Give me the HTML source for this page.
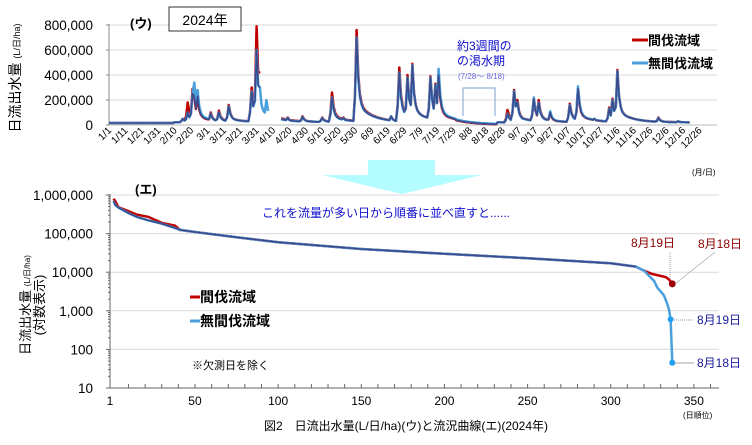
<!DOCTYPE html>
<html><head><meta charset="utf-8"><style>
body{margin:0;background:#fff;}
svg{display:block;font-family:"Liberation Sans","Noto Sans CJK JP",sans-serif;}
</style></head><body>
<svg id="s" width="752" height="445" viewBox="0 0 752 445" xmlns="http://www.w3.org/2000/svg">
<rect width="752" height="445" fill="#fff"/>
<polygon points="368,160 435,160 435,175 482,175 402,194 322,175 368,175" fill="#b3fcff"/>
<g id="gtop"></g>
<g id="gbot"></g>
<text x="20" y="78" transform="rotate(-90 20 78)" font-size="14" text-anchor="middle">日流出水量 <tspan font-size="9">(L/日/ha)</tspan></text>
<text x="130" y="28" font-size="13" font-weight="bold">(ウ)</text>
<rect x="169" y="7" width="72" height="24" fill="#fff" stroke="#333" stroke-width="1"/>
<text x="205" y="25" font-size="14" text-anchor="middle">2024年</text>
<text x="457" y="50" font-size="12" fill="#1010d0">約3週間の</text>
<text x="457" y="65" font-size="12" fill="#1010d0">の渇水期</text>
<text x="458" y="79" font-size="8" fill="#6a6ae0">(7/28〜 8/18)</text>
<polyline points="463,116 463,88 495,88 495,116" fill="none" stroke="#7f9fd0" stroke-width="1"/>
<line x1="632" y1="40" x2="648" y2="40" stroke="#c00000" stroke-width="3"/>
<text x="648" y="45" font-size="13" font-weight="bold">間伐流域</text>
<line x1="632" y1="63" x2="648" y2="63" stroke="#4aa0dc" stroke-width="3"/>
<text x="648" y="68" font-size="13" font-weight="bold">無間伐流域</text>
<text x="692" y="175" font-size="8">(月/日)</text>
<text x="135" y="194" font-size="13" font-weight="bold">(エ)</text>
<text x="262" y="217" font-size="12" fill="#1010d0">これを流量が多い日から順番に並べ直すと......</text>
<line x1="190" y1="297" x2="200" y2="297" stroke="#c00000" stroke-width="3"/>
<text x="200" y="302" font-size="14" font-weight="bold">間伐流域</text>
<line x1="190" y1="321" x2="200" y2="321" stroke="#4aa0dc" stroke-width="3"/>
<text x="200" y="326" font-size="14" font-weight="bold">無間伐流域</text>
<text x="192" y="369" font-size="11">※欠測日を除く</text>
<text x="30" y="305" transform="rotate(-90 30 305)" font-size="13" text-anchor="middle">日流出水量 <tspan font-size="8">(L/日/ha)</tspan></text>
<text x="44" y="305" transform="rotate(-90 44 305)" font-size="13" text-anchor="middle">(対数表示)</text>
<text x="631" y="247" font-size="12" fill="#8b0000">8月19日</text>
<text x="698" y="248" font-size="12" fill="#8b0000">8月18日</text>
<line x1="670" y1="252" x2="670" y2="280" stroke="#999" stroke-dasharray="1,1"/>
<line x1="675" y1="284" x2="715" y2="252" stroke="#aaa" stroke-width="0.7"/>
<line x1="672" y1="320" x2="694" y2="320" stroke="#999" stroke-dasharray="1,1"/>
<text x="697" y="324" font-size="12" fill="#1a1a9a">8月19日</text>
<line x1="674" y1="363" x2="694" y2="363" stroke="#888" stroke-width="0.7"/>
<text x="697" y="367" font-size="12" fill="#1a1a9a">8月18日</text>
<text x="683" y="418" font-size="8">(日順位)</text>
<text x="406" y="430" font-size="12" text-anchor="middle">図2　日流出水量(L/日/ha)(ウ)と流況曲線(エ)(2024年)</text>
</svg>
<script>
(function(){
var NS="http://www.w3.org/2000/svg";
function el(p,t,a,txt){var e=document.createElementNS(NS,t);for(var k in a)e.setAttribute(k,a[k]);if(txt!==undefined)e.textContent=txt;p.appendChild(e);return e;}
var gt=document.getElementById('gtop'),gb=document.getElementById('gbot');
function fmt(v){return String(v).replace(/\B(?=(\d{3})+(?!\d))/g,',');}
var X0=109,Y0=125,dx=1.64;
function ty(v){return Y0-v/8000;}
[200000,400000,600000,800000].forEach(function(v){el(gt,'line',{x1:X0,x2:717,y1:ty(v),y2:ty(v),stroke:'#d9d9d9'});});
el(gt,'line',{x1:X0,x2:717,y1:Y0,y2:Y0,stroke:'#bbb'});
el(gt,'line',{x1:X0,x2:X0,y1:24,y2:Y0,stroke:'#888'});
[0,200000,400000,600000,800000].forEach(function(v){
 el(gt,'line',{x1:X0-3,x2:X0,y1:ty(v),y2:ty(v),stroke:'#888'});
 el(gt,'text',{x:93,y:ty(v)+5,'font-size':13.5,'text-anchor':'end'},fmt(v));});
var mons=[31,29,31,30,31,30,31,31,30,31,30,31],cum=[0];for(var i=0;i<12;i++)cum.push(cum[i]+mons[i]);
for(var d=0;d<=360;d+=10){var m=0;while(cum[m+1]<=d)m++;var lab=(m+1)+'/'+(d-cum[m]+1);
 var x=X0+d*dx;el(gt,'text',{x:x+3,y:131,'font-size':10,'text-anchor':'end',transform:'rotate(-45 '+(x+3)+' 131)'},lab);}
var sp=[[45,50,50],[48,180,100],[51,290,250],[52,230,340],[54,230,280],[62,100,90],[67,115,100],[73,160,150],[87,300,270],[90,790,600],[92,430,300],[96,0,200],
[109,60,55],[118,70,65],[130,60,55],[136,260,220],[143,60,55],[151,760,700],[154,110,110],[164,55,55],[172,70,70],[177,460,420],[182,400,380],[185,490,480],
[196,390,380],[199,330,320],[201,400,450],[208,60,60],[243,120,90],[247,280,270],[249,200,180],[259,210,220],[262,200,180],[269,100,110],[281,170,160],[286,290,310],
[296,50,50],[305,140,130],[307,210,200],[310,440,430],[335,60,55],[347,30,30]];
function series(k){var a=[];for(var d=0;d<355;d++){var base=(d<40?16000:d<200?22000:20000);
 if(d>=212&&d<=236)base=(k==1?4000:7000)+(236-d)*350;
 var mx=0;sp.forEach(function(s){var p=s[k]*1000;if(!p)return;var t=d-s[0];var q=p-base;var v=0;
  if(t>=0)v=q*(0.78*Math.exp(-t/1.1)+0.22*Math.exp(-t/9));else if(t==-1)v=0.3*q;
  if(v>mx)mx=v;});a.push(base+mx);}return a;}
function path(a,gapFn){var s='',pen=false;for(var d=0;d<a.length;d++){if(gapFn(d)){pen=false;continue;}s+=(pen?'L':'M')+(X0+d*dx).toFixed(1)+','+ty(a[d]).toFixed(1);pen=true;}return s;}
var r=series(1),b=series(2);
el(gt,'path',{d:path(r,function(d){return d>=93&&d<105;}),fill:'none',stroke:'#c00000','stroke-width':2.5,'stroke-linejoin':'round'});
el(gt,'path',{d:path(b,function(d){return d>=98&&d<105;}),fill:'none',stroke:'#4aa0dc','stroke-width':2.5,'stroke-linejoin':'round'});
el(gt,'path',{d:path(b.map(function(v,i){return Math.min(v,r[i]);}),function(d){return d>=93&&d<105;}),fill:'none',stroke:'#3a4a8c','stroke-width':1.6,'stroke-linejoin':'round'});
var BX=110,BY0=388,dec=38.6,sx=1.663;
function bx(n){return 113.5+(n-1)*sx;}
function by(v){return BY0-Math.log10(v/10)*dec;}
[100,1000,10000,100000,1000000].forEach(function(v){el(gb,'line',{x1:BX,x2:719,y1:by(v),y2:by(v),stroke:'#d9d9d9'});});
el(gb,'line',{x1:BX,x2:719,y1:BY0,y2:BY0,stroke:'#666'});
el(gb,'line',{x1:BX,x2:BX,y1:194,y2:BY0,stroke:'#666'});
for(var e=1;e<=6;e++){var v=Math.pow(10,e);el(gb,'text',{x:93,y:by(v)+5,'font-size':13.5,'text-anchor':'end'},fmt(v));
 if(e<6)for(var k=1;k<10;k++){var yy=by(v*k);el(gb,'line',{x1:BX-(k==1?4:2),x2:BX,y1:yy,y2:yy,stroke:'#666'});}}
el(gb,'line',{x1:BX-4,x2:BX,y1:by(1e6),y2:by(1e6),stroke:'#666'});
for(var n=10;n<=370;n+=10){var x=bx(n);if(x>719)break;el(gb,'line',{x1:x,x2:x,y1:BY0-4,y2:BY0,stroke:'#666'});}
[[1,'1'],[50,'50'],[100,'100'],[150,'150'],[200,'200'],[250,'250'],[300,'300'],[350,'350']].forEach(function(t){el(gb,'text',{x:t[0]==1?110:bx(t[0]),y:405,'font-size':12,'text-anchor':'middle'},t[1]);});
var R=[[1,800000],[2,700000],[4,480000],[10,380000],[15,310000],[22,270000],[30,190000],[38,160000],[41,125000],[50,110000],[75,80000],[100,60000],[150,40000],[200,30000],[250,23000],[300,17000],[315,14000],[320,11000],[325,9000],[333,7500],[335,6500],[337,5000]];
var B=[[1,700000],[2,550000],[4,470000],[10,340000],[15,270000],[22,220000],[30,180000],[38,140000],[41,125000],[50,110000],[75,80000],[100,60000],[150,40000],[200,30000],[250,23000],[300,17000],[315,14000],[320,11000],[323,8000],[326,6000],[328,4000],[332,2500],[334,1500],[335,1100],[336,600],[337,45]];
function lp(a){return a.map(function(p,i){return (i?'L':'M')+bx(p[0]).toFixed(1)+','+by(p[1]).toFixed(1);}).join('');}
el(gb,'path',{d:lp(R),fill:'none',stroke:'#c00000','stroke-width':2.5});
el(gb,'path',{d:lp(B),fill:'none',stroke:'#4aa0dc','stroke-width':2.5});
el(gb,'path',{d:lp(B.filter(function(p){return p[0]<=318;})),fill:'none',stroke:'#3a4a8c','stroke-width':1.6});
el(gb,'circle',{cx:bx(337),cy:by(5000),r:3.5,fill:'#a00000'});
el(gb,'circle',{cx:bx(336),cy:by(600),r:3,fill:'#1ea0f0'});
el(gb,'circle',{cx:bx(337),cy:by(45),r:3,fill:'#1ea0f0'});
})();
</script>
</body></html>
